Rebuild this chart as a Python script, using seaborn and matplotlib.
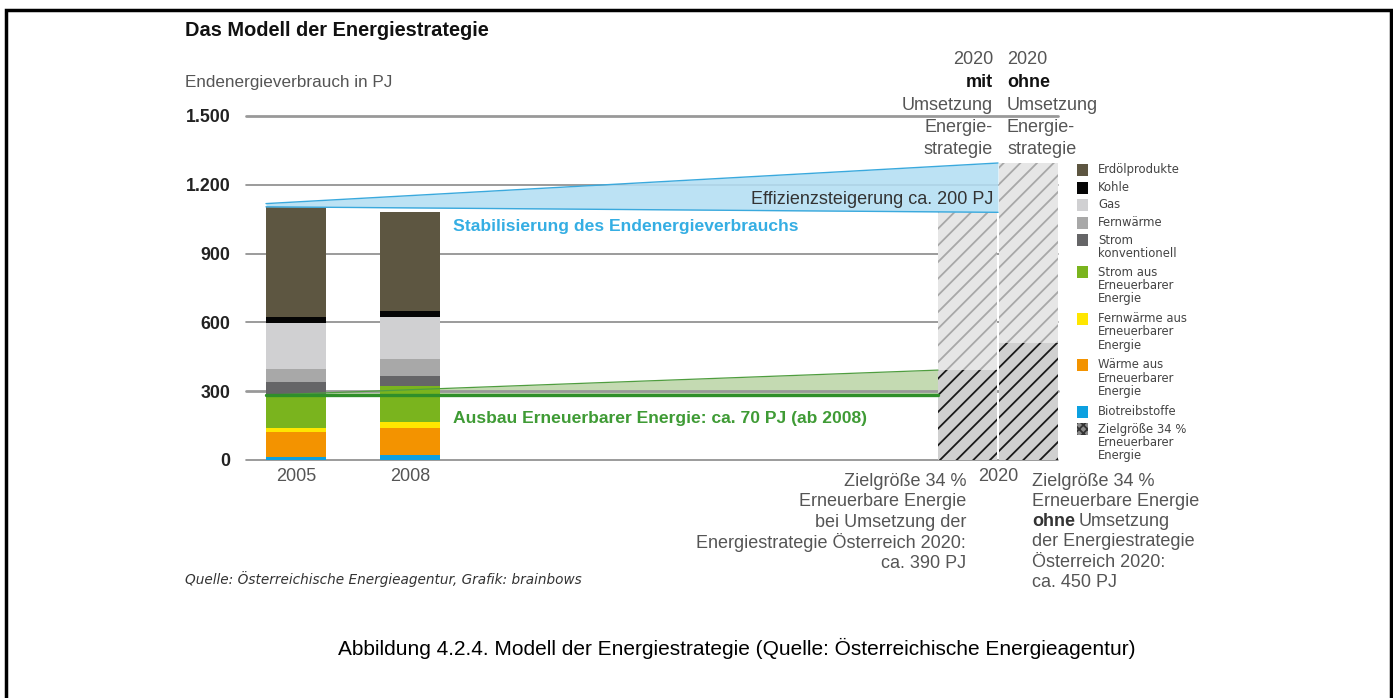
import numpy as np
import pandas as pd
import matplotlib
matplotlib.use("Agg")
import matplotlib.pyplot as plt
from matplotlib.patches import Rectangle
import seaborn as sns

# ---------------------------------------------------
# DATA (PJ)
# ---------------------------------------------------

years = ["2005", "2008"]
sources = ["Biotreibstoffe", "Wärme aus EE", "Fernwärme aus EE", "Strom aus EE",
           "Strom konventionell", "Fernwärme", "Gas", "Kohle", "Erdölprodukte"]
values_2005 = [13, 110, 18, 142, 58, 54, 201, 26, 482]
values_2008 = [20, 121, 26, 157, 44, 71, 183, 26, 434]

scenarios = ["mit", "ohne"]
total_2020 = [1080, 1295]
renewable_2020 = [392, 510]

band_2005_top = 1118

y_ticks = [0, 300, 600, 900, 1200, 1500]
y_tick_labels = ["0", "300", "600", "900", "1.200", "1.500"]

legend_labels = ["Erdölprodukte", "Kohle", "Gas", "Fernwärme",
                 "Strom\nkonventionell",
                 "Strom aus\nErneuerbarer\nEnergie",
                 "Fernwärme aus\nErneuerbarer\nEnergie",
                 "Wärme aus\nErneuerbarer\nEnergie",
                 "Biotreibstoffe",
                 "Zielgröße 34 %\nErneuerbarer\nEnergie"]

colors = {
    "Erdölprodukte": "#5d5641",
    "Kohle": "#050505",
    "Gas": "#d0d0d2",
    "Fernwärme": "#a8a8a8",
    "Strom konventionell": "#656567",
    "Strom aus EE": "#7ab41e",
    "Fernwärme aus EE": "#ffe600",
    "Wärme aus EE": "#f39300",
    "Biotreibstoffe": "#0ca0e0",
}

# ---------------------------------------------------
# LAYOUT (figure pixels)
# ---------------------------------------------------

W, H = 1393, 698
BAR_X = {"2005": 296, "2008": 410, "mit": 967.5, "ohne": 1028.5}
GREY = "#555555"
FS = 13

sns.set_style("white")
plt.rcParams["font.family"] = ["Liberation Sans", "DejaVu Sans"]
plt.rcParams["hatch.linewidth"] = 1.3

fig = plt.figure(figsize=(W / 100, H / 100), dpi=100)


def fx(x):
    return x / W


def fy(y):
    return 1 - y / H


def ftext(x, y, s, **kw):
    kw.setdefault("va", "center")
    return fig.text(fx(x), fy(y), s, **kw)


ax = fig.add_axes([fx(246), fy(460), (1058 - 246) / W, (460 - 116) / H])

# gridlines
for v in y_ticks:
    thick = v in (300, 1500)
    ax.axhline(v, color="#999999" if thick else "#8a8a8a",
               lw=2.0 if thick else 1.2, zorder=1.5, clip_on=False)

# ---------------------------------------------------
# STACKED BARS 2005 / 2008
# ---------------------------------------------------

hist = pd.DataFrame({"2005": values_2005, "2008": values_2008}, index=sources)
cum = hist.cumsum()
hist_x = [BAR_X[y] for y in years]

for src in reversed(sources):
    sns.barplot(x=hist_x, y=cum.loc[src].values, native_scale=True, orient="x",
                width=60 / (hist_x[1] - hist_x[0]), color=colors[src],
                saturation=1, linewidth=0, errorbar=None, zorder=2, ax=ax)

# ---------------------------------------------------
# 2020 SCENARIOS (hatched)
# ---------------------------------------------------

x2020 = [BAR_X[s] for s in scenarios]
w2020 = 59 / (x2020[1] - x2020[0])
sns.barplot(x=x2020, y=total_2020, native_scale=True, orient="x", width=w2020,
            color="#e6e6e6", edgecolor="#a8a8a8", hatch="//", linewidth=0,
            saturation=1, errorbar=None, zorder=2, ax=ax)
sns.barplot(x=x2020, y=renewable_2020, native_scale=True, orient="x", width=w2020,
            color="#d0d0d0", edgecolor="#1a1a1a", hatch="//", linewidth=0,
            saturation=1, errorbar=None, zorder=2, ax=ax)

# ---------------------------------------------------
# BANDS
# ---------------------------------------------------

total_2005 = sum(values_2005)
ren_2005 = sum(values_2005[:4])

# efficiency wedge (blue)
xb = [266, 998]
top = [band_2005_top, total_2020[1]]
bot = [total_2005, total_2020[0]]
ax.fill_between(xb, bot, top, color="#b3def3", alpha=0.88, lw=0, zorder=3)
ax.plot(xb, top, color="#3aa9dd", lw=1.0, zorder=3.5)
ax.plot(xb, bot, color="#3aa9dd", lw=1.0, zorder=3.5)

# renewables wedge (green)
xg = [266, 938]
ax.fill_between(xg, [ren_2005, ren_2005], [ren_2005, renewable_2020[0]],
                color="#c4dab2", lw=0, zorder=1)
ax.plot(xg, [ren_2005, renewable_2020[0]], color="#4f9d3f", lw=0.9, zorder=3)
ax.plot(xg, [ren_2005, ren_2005], color="#2f8f2a", lw=2.4, zorder=3.2)

# ---------------------------------------------------
# AXES
# ---------------------------------------------------

ax.set_xlim(246, 1058)
ax.set_ylim(0, 1500)
ax.set(xlabel="", ylabel="")
for s in ax.spines.values():
    s.set_visible(False)
ax.set_yticks(y_ticks)
ax.set_yticklabels(y_tick_labels, fontweight="bold", fontsize=12.8, color="#222222")
ax.set_xticks(hist_x + [998])
ax.set_xticklabels(years + ["2020"], fontsize=13, color=GREY)
ax.tick_params(axis="y", length=0, pad=11)
ax.tick_params(axis="x", length=0, pad=6)
ax.patch.set_alpha(0)

# ---------------------------------------------------
# TEXTS
# ---------------------------------------------------

ftext(185, 30, "Das Modell der Energiestrategie", fontsize=14.4,
      fontweight="bold", color="#111111")
ftext(185, 83, "Endenergieverbrauch in PJ", fontsize=12.3, color=GREY)

ftext(453, 227, "Stabilisierung des Endenergieverbrauchs", fontsize=12.6,
      fontweight="bold", color="#35aee3")
ftext(993, 199, "Effizienzsteigerung ca. 200 PJ", fontsize=FS,
      color="#333333", ha="right")
ftext(453, 418, "Ausbau Erneuerbarer Energie: ca. 70 PJ (ab 2008)",
      fontsize=12.6, fontweight="bold", color="#3f9b35")

# column headers above 2020 bars
head_mit = ["2020", "mit", "Umsetzung", "Energie-", "strategie"]
head_ohne = ["2020", "ohne", "Umsetzung", "Energie-", "strategie"]
for i, (a, b) in enumerate(zip(head_mit, head_ohne)):
    y = 60 + i * 22.5
    bold = i == 1
    ftext(993, y, a, ha="right", fontsize=FS,
          fontweight="bold" if bold else "normal",
          color="#111111" if bold else GREY)
    ftext(1007, y, b, ha="left", fontsize=FS,
          fontweight="bold" if bold else "normal",
          color="#111111" if bold else GREY)

# notes below 2020 bars
note_mit = ["Zielgröße 34 %", "Erneuerbare Energie", "bei Umsetzung der",
            "Energiestrategie Österreich 2020:", "ca. 390 PJ"]
note_ohne = ["Zielgröße 34 %", "Erneuerbare Energie", "",
             "der Energiestrategie", "Österreich 2020:", "ca. 450 PJ"]
for i, s in enumerate(note_mit):
    ftext(966, 481 + i * 20.6, s, ha="right", fontsize=FS, color=GREY)
for i, s in enumerate(note_ohne):
    ftext(1032, 481 + i * 20.3, s, ha="left", fontsize=FS, color=GREY)
t_ohne = ftext(1032, 522, "ohne", ha="left", fontsize=FS, fontweight="bold",
               color="#333333")
renderer = fig.canvas.get_renderer()
ohne_right = t_ohne.get_window_extent(renderer).x1
ftext(ohne_right + 4, 522, "Umsetzung", ha="left", fontsize=FS, color=GREY)

# legend
legend_colors = [colors[s] for s in reversed(sources)] + [None]
y = 170
for lab, col in zip(legend_labels, legend_colors):
    if col is None:
        fig.patches.append(Rectangle((fx(1077), fy(y + 6)), 11 / W, 12 / H,
                                     transform=fig.transFigure, facecolor="#8a8a8a",
                                     edgecolor="#333333", hatch="xxxx", lw=0))
    else:
        fig.patches.append(Rectangle((fx(1077), fy(y + 6)), 11 / W, 12 / H,
                                     transform=fig.transFigure, facecolor=col, lw=0))
    lines = lab.split("\n")
    for j, line in enumerate(lines):
        ftext(1098, y + j * 13.5, line, fontsize=8.4, color="#444444",
              family="DejaVu Sans")
    y += 17.5 + (len(lines) - 1) * 14.5

ftext(185, 579, "Quelle: Österreichische Energieagentur, Grafik: brainbows",
      fontsize=9.8, style="italic", color="#333333", family="DejaVu Sans")

fig.text(fx(737), fy(648),
         "Abbildung 4.2.4. Modell der Energiestrategie (Quelle: Österreichische Energieagentur)",
         ha="center", va="center", fontsize=15, color="black")

# frame around the figure
fig.patches.append(Rectangle((fx(6), -0.1), (1391 - 6) / W, fy(10) + 0.1,
                             transform=fig.transFigure, fill=False,
                             edgecolor="black", lw=2.5))

fig.savefig("out.png", dpi=100)
